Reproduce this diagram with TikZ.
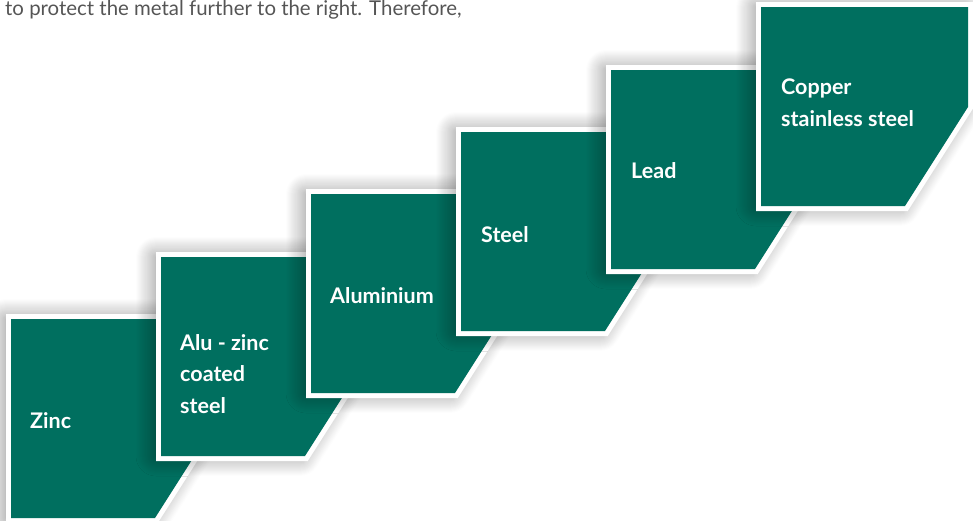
\documentclass[tikz,border=0pt]{standalone}
\usepackage{fontspec}
\setmainfont{Lato}
\usetikzlibrary{shadows.blur}
\definecolor{metalgreen}{RGB}{0,111,95}
\definecolor{introgray}{RGB}{85,85,85}

\begin{document}
\begin{tikzpicture}[x=1pt,y=-1pt,
  plate/.style={fill=white, draw=white, line width=10pt, line join=miter,
    blur shadow={shadow xshift=-5pt, shadow yshift=0pt, shadow blur radius=20pt,
      shadow opacity=50, shadow blur steps=20}},
  face/.style={fill=metalgreen},
  metal/.style={anchor=base west, inner sep=0pt, text=white, align=left,
    font=\bfseries\fontsize{21.5}{31.5}\selectfont}]
\useasboundingbox (0,0) rectangle (973,520);
\node[anchor=base west, inner sep=0pt, text=introgray, font=\fontsize{20.4}{24}\selectfont]
  (intro) at (5,15.5) {to protect the metal further to the right. Therefore,};
% zinc
\draw[plate] (11,319) -- ++(207,0) -- ++(0,100) -- ++(-63,99) -- ++(-144,0) -- cycle;
\path[face] (11,319) -- ++(207,0) -- ++(0,100) -- ++(-63,99) -- ++(-144,0) -- cycle;
\node[metal] (zinc) at (30,428) {Zinc};
% alu-zinc
\draw[plate] (161,257) -- ++(207,0) -- ++(0,100) -- ++(-63,99) -- ++(-144,0) -- cycle;
\path[face] (161,257) -- ++(207,0) -- ++(0,100) -- ++(-63,99) -- ++(-144,0) -- cycle;
\node[metal] (aluzinc) at (180,413) {Alu - zinc\\coated\\steel};
% aluminium
\draw[plate] (311,194) -- ++(207,0) -- ++(0,100) -- ++(-63,99) -- ++(-144,0) -- cycle;
\path[face] (311,194) -- ++(207,0) -- ++(0,100) -- ++(-63,99) -- ++(-144,0) -- cycle;
\node[metal] (alu) at (330,303) {Aluminium};
% steel
\draw[plate] (461,132) -- ++(207,0) -- ++(0,100) -- ++(-63,99) -- ++(-144,0) -- cycle;
\path[face] (461,132) -- ++(207,0) -- ++(0,100) -- ++(-63,99) -- ++(-144,0) -- cycle;
\node[metal] (steel) at (481,242) {Steel};
% lead
\draw[plate] (611,70) -- ++(207,0) -- ++(0,100) -- ++(-63,99) -- ++(-144,0) -- cycle;
\path[face] (611,70) -- ++(207,0) -- ++(0,100) -- ++(-63,99) -- ++(-144,0) -- cycle;
\node[metal] (lead) at (631,178) {Lead};
% copper
\draw[plate] (761,7) -- ++(207,0) -- ++(0,100) -- ++(-63,99) -- ++(-144,0) -- cycle;
\path[face] (761,7) -- ++(207,0) -- ++(0,100) -- ++(-63,99) -- ++(-144,0) -- cycle;
\node[metal] (copper) at (781,126) {Copper\\stainless steel};
\end{tikzpicture}
\end{document}
